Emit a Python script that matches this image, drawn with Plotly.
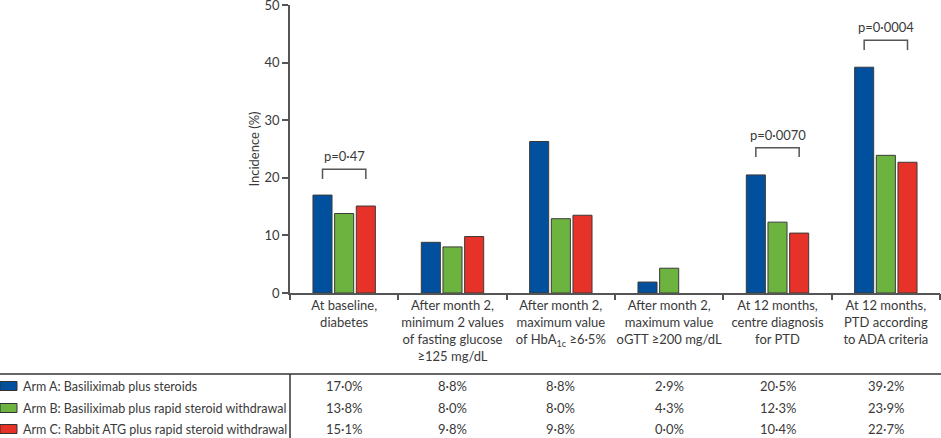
import plotly.graph_objects as go

# ---------------- data ----------------
categories = [
    "At baseline,<br>diabetes",
    "After month 2,<br>minimum 2 values<br>of fasting glucose<br>≥125 mg/dL",
    "After month 2,<br>maximum value<br>of HbA<sub>1c</sub> ≥6·5%",
    "After month 2,<br>maximum value<br>oGTT ≥200 mg/dL",
    "At 12 months,<br>centre diagnosis<br>for PTD",
    "At 12 months,<br>PTD according<br>to ADA criteria",
]
series_names = [
    "Arm A: Basiliximab plus steroids",
    "Arm B: Basiliximab plus rapid steroid withdrawal",
    "Arm C: Rabbit ATG plus rapid steroid withdrawal",
]
arm_a = [17.0, 8.8, 26.3, 1.9, 20.5, 39.2]
arm_b = [13.8, 8.0, 12.9, 4.3, 12.3, 23.9]
arm_c = [15.1, 9.8, 13.5, 0.0, 10.4, 22.7]

table_a = ["17·0%", "8·8%", "8·8%", "2·9%", "20·5%", "39·2%"]
table_b = ["13·8%", "8·0%", "8·0%", "4·3%", "12·3%", "23·9%"]
table_c = ["15·1%", "9·8%", "9·8%", "0·0%", "10·4%", "22·7%"]

# p-value brackets: (category index, bracket top y, leg bottom y, label)
p_values = [(0, 21.5, 19.8, "p=0·47"), (4, 25.2, 23.6, "p=0·0070"), (5, 43.9, 42.2, "p=0·0004")]

y_ticks = [0, 10, 20, 30, 40, 50]

colors = ["#00509e", "#6db33f", "#e63228"]
FONT = "Lato"
TXT = "#3a3a3a"
LINE = "#555555"

W, H = 941, 438
ML, MR, MT, MB = 290, 1, 5, 145
PW = W - ML - MR
PH = H - MT - MB


def px_x(px):
    return (px - ML) / PW


def px_y(py):
    return (H - MB - py) / PH


fig = go.Figure()
idx = list(range(len(categories)))
for name, vals, col in zip(series_names, [arm_a, arm_b, arm_c], colors):
    fig.add_trace(go.Bar(
        x=idx, y=vals, name=name,
        marker=dict(color=col, line=dict(color="#3a3a3a",
                                         width=[1 if v > 0 else 0 for v in vals])),
        showlegend=False,
    ))

shapes = []
annotations = []
for ci, ytop, ybot, label in p_values:
    x0, x1 = ci - 0.2, ci + 0.2
    shapes.append(dict(
        type="path", xref="x", yref="y",
        path=f"M {x0} {ybot} L {x0} {ytop} L {x1} {ytop} L {x1} {ybot}",
        line=dict(color=LINE, width=1.5),
    ))
    annotations.append(dict(
        x=ci, y=ytop + 0.5, xref="x", yref="y", text=label, showarrow=False,
        yanchor="bottom", font=dict(family=FONT, size=13, color=TXT),
    ))

# table
shapes.append(dict(type="line", xref="paper", yref="paper",
                   x0=px_x(0), x1=px_x(W), y0=px_y(374), y1=px_y(374),
                   line=dict(color="#333333", width=1.5)))
shapes.append(dict(type="line", xref="paper", yref="paper",
                   x0=px_x(290), x1=px_x(290), y0=px_y(374), y1=px_y(H),
                   line=dict(color="#333333", width=1.5)))

row_y = [386, 408, 429]
for ry, name, col, texts in zip(row_y, series_names, colors, [table_a, table_b, table_c]):
    shapes.append(dict(type="rect", xref="paper", yref="paper",
                       x0=px_x(0), x1=px_x(17), y0=px_y(ry - 4.5), y1=px_y(ry + 4.5),
                       fillcolor=col, line=dict(color="#333333", width=1)))
    annotations.append(dict(x=px_x(21), y=px_y(ry), xref="paper", yref="paper",
                            text=name, showarrow=False, xanchor="left", yanchor="middle",
                            font=dict(family=FONT, size=12.5, color=TXT)))
    for ci, t in enumerate(texts):
        annotations.append(dict(x=ci, y=px_y(ry), xref="x", yref="paper",
                                text=t, showarrow=False, xanchor="center", yanchor="middle",
                                font=dict(family=FONT, size=13, color=TXT)))

fig.update_layout(
    width=W, height=H,
    margin=dict(l=ML, r=MR, t=MT, b=MB, autoexpand=False),
    paper_bgcolor="white", plot_bgcolor="white",
    barmode="group", bargap=0.4, bargroupgap=0.12,
    font=dict(family=FONT, size=13, color=TXT),
    shapes=shapes, annotations=annotations,
    xaxis=dict(
        type="linear", range=[-0.5, 5.5], automargin=False,
        tickmode="array", tickvals=idx, ticktext=categories,
        showline=True, linecolor=LINE, linewidth=1.5,
        ticks="", showgrid=False, zeroline=False, ticklabeloverflow="allow",
        tickfont=dict(family=FONT, size=13, color=TXT),
    ),
    xaxis2=dict(
        overlaying="x", range=[-0.5, 5.5], tickmode="array", automargin=False,
        tickvals=[i - 0.5 for i in range(7)], ticktext=[""] * 7,
        ticks="outside", ticklen=6, tickcolor=LINE, tickwidth=1.5,
        showgrid=False, zeroline=False, side="bottom", anchor="y",
    ),
    yaxis=dict(
        range=[0, 50], tickvals=y_ticks, automargin=False,
        showline=True, linecolor=LINE, linewidth=1.5,
        ticks="outside", ticklen=6, tickcolor=LINE, tickwidth=1.5,
        showgrid=False, zeroline=False, ticklabeloverflow="allow",
        title=dict(text="Incidence (%)", standoff=2, font=dict(family=FONT, size=13, color=TXT)),
        tickfont=dict(family=FONT, size=13, color=TXT),
    ),
)
# invisible trace so that the boundary ticks axis is drawn
fig.add_trace(go.Scatter(x=[-0.5], y=[0], xaxis="x2", mode="markers",
                         marker=dict(opacity=0), showlegend=False, hoverinfo="skip"))

fig.write_html(
    "out.html",
    config={"displayModeBar": False},
    post_script="document.body.style.margin='0';document.body.style.overflow='hidden';",
)
